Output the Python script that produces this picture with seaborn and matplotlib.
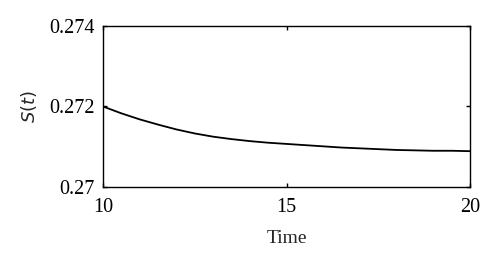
import matplotlib
matplotlib.use("Agg")
import matplotlib.pyplot as plt
import seaborn as sns
import pandas as pd

time = [10, 10.5, 11, 11.5, 12, 12.5, 13, 13.5, 14, 14.5, 15, 15.5, 16, 16.5,
        17, 17.5, 18, 18.5, 19, 19.5, 20]
s_values = [0.27200, 0.27183, 0.27168, 0.27155, 0.27143, 0.27133, 0.27125,
            0.27119, 0.27114, 0.27110, 0.27107, 0.27104, 0.27101, 0.27098,
            0.27096, 0.27094, 0.27092, 0.27091, 0.27090, 0.27090, 0.27089]
x_ticks = [10, 15, 20]
y_ticks = [0.270, 0.272, 0.274]
y_tick_labels = ["0.27", "0.272", "0.274"]

sns.set_style("ticks")
plt.rcParams["font.family"] = ["Liberation Serif", "DejaVu Serif"]
plt.rcParams["mathtext.fontset"] = "dejavusans"

df = pd.DataFrame({"Time": time, "S": s_values})

fig = plt.figure(figsize=(5.0, 2.62), dpi=100)
ax = fig.add_axes([0.206, 0.2863, 0.734, 0.6145])
sns.lineplot(data=df, x="Time", y="S", ax=ax, color="black", linewidth=1.3)

ax.set_xlim(10, 20)
ax.set_ylim(0.270, 0.274)
ax.set_xticks(x_ticks)
ax.set_xticklabels([str(t) for t in x_ticks])
ax.set_yticks(y_ticks)
ax.set_yticklabels(y_tick_labels)
ax.tick_params(direction="in", length=3, width=1, top=True, right=True,
               labelsize=14.5, colors="black", pad=6)
ax.tick_params(axis="x", pad=8)
for sp in ax.spines.values():
    sp.set_visible(True)
    sp.set_linewidth(1.0)
    sp.set_color("black")
ax.set_xlabel("Time", fontsize=14, labelpad=9)
ax.set_ylabel("$S(t)$", fontsize=13, labelpad=7)

fig.savefig("out.png", dpi=100)
